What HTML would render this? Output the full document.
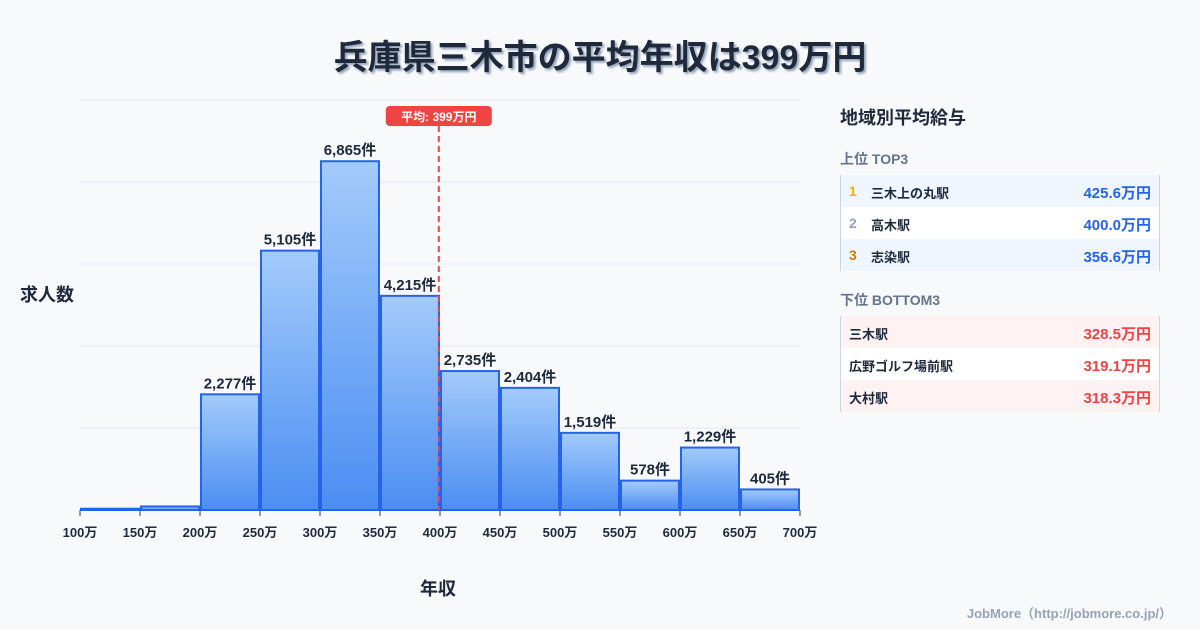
<!DOCTYPE html>
<html><head><meta charset="utf-8">
<style>
body{margin:0;width:1200px;height:630px;background:#f8f9fb;font-family:"Liberation Sans","Noto Sans CJK JP",sans-serif;overflow:hidden;position:relative}
.t{position:absolute}
.row{position:absolute;left:840px;width:320px;height:32px;font-size:13px;font-weight:bold;color:#1e293b;border-left:1px solid #cbd5e1;border-right:1px solid #cbd5e1;box-sizing:border-box}
.row span{position:absolute;top:8px}
.row .v{right:8px;font-size:15px;top:7px}
</style></head><body>
<div class="t" style="left:0;width:1200px;top:30px;text-align:center;font-size:34px;font-weight:bold;color:#1e293b;text-shadow:2px 2px 2px #94a3b8">兵庫県三木市の平均年収は399万円</div>
<div class="t" style="left:20px;top:281px;font-size:18px;font-weight:bold;color:#1e293b">求人数</div>
<div class="t" style="left:420px;top:575px;font-size:18px;font-weight:bold;color:#1e293b">年収</div>
<svg class="t" style="left:0;top:0" width="820" height="560">
<defs><linearGradient id="g" x1="0" y1="0" x2="0" y2="1"><stop offset="0" stop-color="#a3cbfb"/><stop offset="1" stop-color="#4b8ef2"/></linearGradient></defs>
<g id="grid"></g><g id="bars"></g><g id="ticks"></g><g id="mean"></g>
</svg>
<div class="t" style="left:840px;top:104px;font-size:18px;font-weight:bold;color:#1e293b">地域別平均給与</div>
<div class="t" style="left:840px;top:149px;font-size:14px;font-weight:bold;color:#64748b">上位 TOP3</div>
<div class="row" style="top:175px;background:#eff6ff"><span style="left:8px;color:#eab308;font-size:14px">1</span><span style="left:30px">三木上の丸駅</span><span class="v" style="color:#2563eb">425.6万円</span></div>
<div class="row" style="top:207px;background:#fff"><span style="left:8px;color:#94a3b8;font-size:14px">2</span><span style="left:30px">高木駅</span><span class="v" style="color:#2563eb">400.0万円</span></div>
<div class="row" style="top:239px;background:#eff6ff"><span style="left:8px;color:#d97706;font-size:14px">3</span><span style="left:30px">志染駅</span><span class="v" style="color:#2563eb">356.6万円</span></div>
<div class="t" style="left:840px;top:290px;font-size:14px;font-weight:bold;color:#64748b">下位 BOTTOM3</div>
<div class="row" style="top:316px;background:#fef2f2"><span style="left:8px">三木駅</span><span class="v" style="color:#ef4444">328.5万円</span></div>
<div class="row" style="top:348px;background:#fff"><span style="left:8px">広野ゴルフ場前駅</span><span class="v" style="color:#ef4444">319.1万円</span></div>
<div class="row" style="top:380px;background:#fef2f2"><span style="left:8px">大村駅</span><span class="v" style="color:#ef4444">318.3万円</span></div>
<div class="t" style="right:28px;top:603px;font-size:13px;font-weight:bold;color:#94a3b8">JobMore（http://jobmore.co.jp/）</div>
<script>
const binStarts=[100,150,200,250,300,350,400,450,500,550,600,650];
const counts=[25,70,2277,5105,6865,4215,2735,2404,1519,578,1229,405];
const countLabels=["","","2,277件","5,105件","6,865件","4,215件","2,735件","2,404件","1,519件","578件","1,229件","405件"];
const xTicks=[100,150,200,250,300,350,400,450,500,550,600,650,700];
const yMax=8070;
const gridSteps=[0,1,2,3,4,5];
const meanVal=399;
const NS="http://www.w3.org/2000/svg";
const X=v=>80+(v-100)/600*720, Y=v=>510-v/yMax*410;
function mk(t,a,p){const e=document.createElementNS(NS,t);for(const k in a)e.setAttribute(k,a[k]);p.appendChild(e);return e;}
const grid=document.getElementById('grid'),bars=document.getElementById('bars'),ticks=document.getElementById('ticks'),mean=document.getElementById('mean');
gridSteps.forEach(s=>{const v=yMax*s/5;const l=mk('line',{x1:80,x2:800,y1:Y(v),y2:Y(v),stroke:'#e2e8f0'},grid);

});
counts.forEach((c,i)=>{const x0=X(binStarts[i]),x1=X(binStarts[i]+50);
const r=mk('rect',{x:x0+1,y:Y(c),width:x1-x0-2,height:Math.max(510-Y(c),1),fill:'url(#g)',stroke:'#2563eb','stroke-width':2},bars);


if(countLabels[i]){const t=mk('text',{x:(x0+x1)/2,y:Y(c)-6,'text-anchor':'middle','font-size':15,'font-weight':'bold',fill:'#1e293b'},bars);t.textContent=countLabels[i];

}});
xTicks.forEach(v=>{mk('line',{x1:X(v),x2:X(v),y1:510,y2:516,stroke:'#334155'},ticks);
const t=mk('text',{x:X(v),y:537,'text-anchor':'middle','font-size':13,'font-weight':'bold',fill:'#1e293b'},ticks);t.textContent=v+'万';

});
const mx=X(meanVal);
const ml=mk('line',{x1:mx,x2:mx,y1:126,y2:510,stroke:'#ef4444','stroke-width':2,'stroke-dasharray':'6,4'},mean);


const mb=mk('rect',{x:mx-53,y:106,width:106,height:20,rx:4,fill:'#ef4444'},mean);


const mt=mk('text',{x:mx,y:121,'text-anchor':'middle','font-size':12,'font-weight':'bold',fill:'#fff'},mean);mt.textContent='平均: '+meanVal+'万円';


</script>
</body></html>
